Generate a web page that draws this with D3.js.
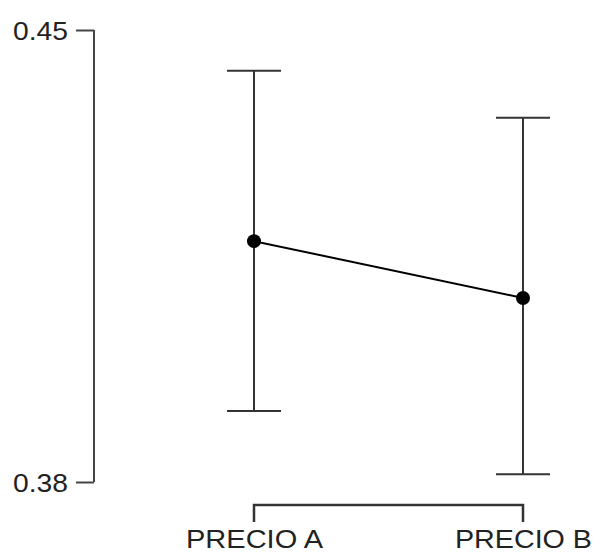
<!DOCTYPE html>
<html>
<head>
<meta charset="utf-8">
<script src="https://cdn.jsdelivr.net/npm/d3@7"></script>
<style>
  html, body { margin: 0; padding: 0; background: #fff; }
  svg { display: block; }
  text { font-family: "Liberation Sans", Arial, sans-serif; fill: #222; }
</style>
</head>
<body>
<svg id="chart" width="598" height="554"></svg>
<script>
// Mean price share by condition with error bars
const categories = ["PRECIO A", "PRECIO B"];
const means = [0.4173, 0.4085];
const upper = [0.4437, 0.4364];
const lower = [0.3910, 0.3812];
const yTicks = [0.38, 0.45];
const yTickLabels = ["0.38", "0.45"];

const svg = d3.select("#chart");

const y = d3.scaleLinear().domain([0.38, 0.45]).range([482, 30]);
const x = d3.scalePoint().domain(categories).range([254, 523]);

// Y axis: vertical line with end ticks
const axisX = 94;
const yAxis = d3.axisLeft(y)
  .tickValues(yTicks)
  .tickFormat((d, i) => yTickLabels[i])
  .tickSize(18)
  .tickPadding(8);
const gy = svg.append("g").attr("transform", `translate(${axisX},0)`).call(yAxis);
gy.select(".domain").attr("stroke", "#444").attr("stroke-width", 2)
  .attr("d", `M0,${y(0.45)}V${y(0.38)}`);
gy.selectAll(".tick line").attr("stroke", "#444").attr("stroke-width", 2);
gy.selectAll(".tick text")
  .attr("font-size", 25)
  .attr("fill", "#222")
  .attr("font-family", "Liberation Sans, Arial, sans-serif")
  .attr("textLength", 55)
  .attr("lengthAdjust", "spacingAndGlyphs")
  .attr("dy", "0.36em");

// X axis: bracket spanning the categories
const xAxis = d3.axisBottom(x).tickSize(17).tickPadding(8).tickSizeOuter(0);
const gx = svg.append("g").attr("transform", "translate(0,505)").call(xAxis);
gx.select(".domain").attr("stroke", "#333").attr("stroke-width", 2.5)
  .attr("d", `M${x(categories[0])},17V0H${x(categories[1])}V17`);
gx.selectAll(".tick line").remove();
gx.selectAll(".tick text")
  .attr("font-size", 25)
  .attr("fill", "#222")
  .attr("font-family", "Liberation Sans, Arial, sans-serif")
  .attr("textLength", 137)
  .attr("lengthAdjust", "spacingAndGlyphs")
  .attr("y", 43)
  .attr("dy", "0");

const data = categories.map((c, i) => ({ c, m: means[i], hi: upper[i], lo: lower[i] }));

// Error bars
const capHalf = 27;
const eb = svg.append("g").attr("stroke", "#333").attr("stroke-width", 2).attr("fill", "none");
eb.selectAll("line.v").data(data).join("line").attr("class", "v")
  .attr("x1", d => x(d.c)).attr("x2", d => x(d.c))
  .attr("y1", d => y(d.hi)).attr("y2", d => y(d.lo));
eb.selectAll("line.top").data(data).join("line").attr("class", "top")
  .attr("x1", d => x(d.c) - capHalf).attr("x2", d => x(d.c) + capHalf)
  .attr("y1", d => y(d.hi)).attr("y2", d => y(d.hi));
eb.selectAll("line.bot").data(data).join("line").attr("class", "bot")
  .attr("x1", d => x(d.c) - capHalf).attr("x2", d => x(d.c) + capHalf)
  .attr("y1", d => y(d.lo)).attr("y2", d => y(d.lo));

// Line connecting the means
svg.append("path").datum(data)
  .attr("fill", "none").attr("stroke", "#000").attr("stroke-width", 2)
  .attr("d", d3.line().x(d => x(d.c)).y(d => y(d.m)));

// Mean markers
svg.selectAll("circle.m").data(data).join("circle").attr("class", "m")
  .attr("cx", d => x(d.c)).attr("cy", d => y(d.m)).attr("r", 7).attr("fill", "#000");
</script>
</body>
</html>
